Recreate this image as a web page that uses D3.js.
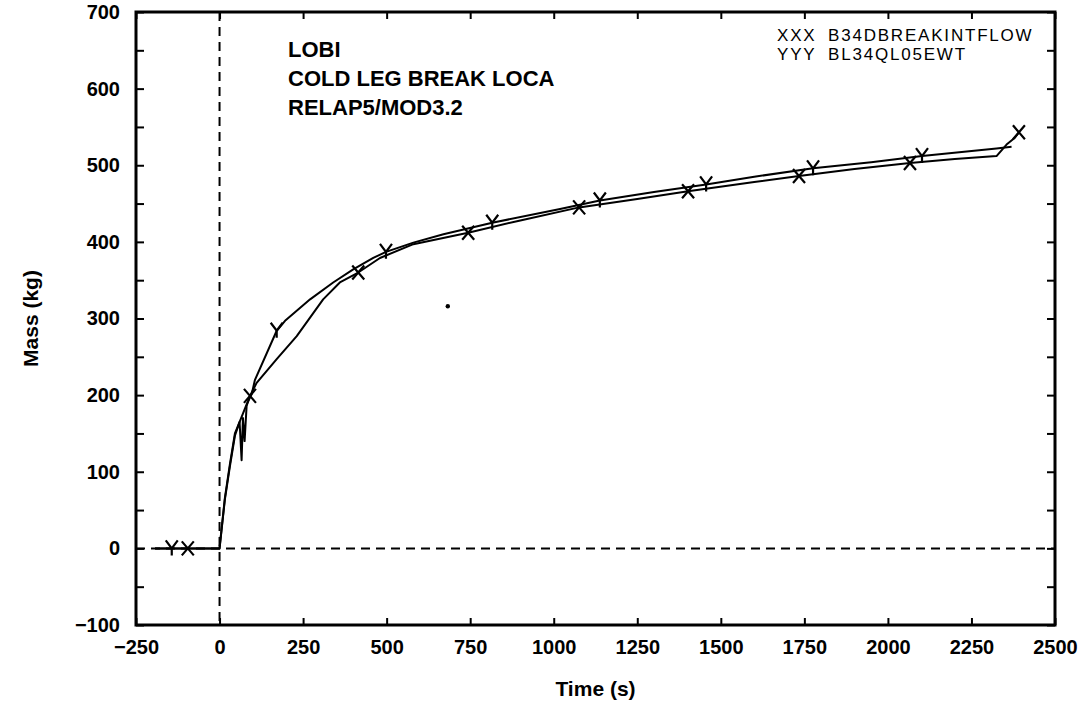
<!DOCTYPE html>
<html>
<head>
<meta charset="utf-8">
<script src="https://cdn.jsdelivr.net/npm/d3@7"></script>
<style>
  html, body { margin: 0; padding: 0; background: #fff; }
  svg { display: block; }
  text { font-family: "Liberation Sans", Arial, Helvetica, sans-serif; fill: #000; }
</style>
</head>
<body>
<svg id="chart" width="1090" height="709"></svg>
<script>
// ---- data ----
const xTicks = [-250, 0, 250, 500, 750, 1000, 1250, 1500, 1750, 2000, 2250, 2500];
const yTicks = [-100, 0, 100, 200, 300, 400, 500, 600, 700];
const yMinorTicks = [-50, 50, 150, 250, 350, 450, 550, 650];

const annotations = ["LOBI", "COLD LEG BREAK LOCA", "RELAP5/MOD3.2"];
const legendSymbols = ["XXX", "YYY"];
const legendNames = ["B34DBREAKINTFLOW", "BL34QL05EWT"];

// series XXX : B34DBREAKINTFLOW
const timeXXX = [-193, 0, 16, 31, 46, 60, 66, 70, 75, 81, 91, 111, 171, 231, 310, 360, 415, 480, 580, 744, 900, 1076, 1250, 1402, 1600, 1734, 1900, 2066, 2200, 2325, 2355, 2380, 2392];
const massXXX = [0, 0, 64, 107, 147, 165, 115, 170, 140, 186, 199, 216, 247, 277, 325, 347, 360, 379, 397, 412, 428, 445, 456, 466, 478, 486, 495, 503, 508, 512, 527, 536, 543];
const markTimeXXX = [-95, 91, 415, 744, 1076, 1402, 1734, 2066, 2392];
const markMassXXX = [0, 199, 360, 412, 445, 466, 486, 503, 543];

// series YYY : BL34QL05EWT
const timeYYY = [-193, 0, 16, 31, 46, 61, 81, 96, 106, 171, 196, 271, 340, 400, 460, 498, 580, 670, 816, 1019, 1138, 1300, 1456, 1600, 1776, 1950, 2102, 2325, 2370];
const massYYY = [0, 0, 66, 110, 150, 166, 188, 201, 220, 284, 297, 325, 347, 364, 379, 387, 399, 410, 425, 443, 454, 465, 475, 485, 496, 504, 512, 522, 524];
const markTimeYYY = [-143, 171, 498, 816, 1138, 1456, 1776, 2102];
const markMassYYY = [0, 284, 387, 425, 454, 475, 496, 512];

// ---- layout ----
const plot = { left: 136, right: 1055, top: 12, bottom: 625 };

const svg = d3.select("#chart");
const x = d3.scaleLinear().domain([-250, 2500]).range([plot.left, plot.right]);
const y = d3.scaleLinear().domain([-100, 700]).range([plot.bottom, plot.top]);

// dashed zero lines
svg.append("line")
  .attr("x1", x(0)).attr("x2", x(0)).attr("y1", plot.top).attr("y2", plot.bottom)
  .attr("stroke", "#000").attr("stroke-width", 2).attr("stroke-dasharray", "9,6");
svg.append("line")
  .attr("x1", plot.left).attr("x2", plot.right).attr("y1", y(0)).attr("y2", y(0))
  .attr("stroke", "#000").attr("stroke-width", 2).attr("stroke-dasharray", "9,6");

// axes
function styleAxis(g) {
  g.select(".domain").remove();
  g.selectAll(".tick line").attr("stroke", "#000").attr("stroke-width", 2);
  g.selectAll(".tick text")
    .style("font-size", "20px").style("font-weight", "bold")
    .style("font-family", "'Liberation Sans', Arial, sans-serif");
}
svg.append("g").attr("transform", `translate(0,${plot.bottom})`)
  .call(d3.axisBottom(x).tickValues(xTicks).tickSize(-7).tickPadding(15).tickFormat(d3.format("d")))
  .call(styleAxis);
svg.append("g").attr("transform", `translate(0,${plot.top})`)
  .call(d3.axisTop(x).tickValues(xTicks).tickSize(-7).tickFormat(""))
  .call(styleAxis);
svg.append("g").attr("transform", `translate(${plot.left},0)`)
  .call(d3.axisLeft(y).tickValues(yTicks).tickSize(-8).tickPadding(16).tickFormat(d3.format("d")))
  .call(styleAxis);
svg.append("g").attr("transform", `translate(${plot.left},0)`)
  .call(d3.axisLeft(y).tickValues(yMinorTicks).tickSize(-8).tickFormat(""))
  .call(styleAxis);
svg.append("g").attr("transform", `translate(${plot.right},0)`)
  .call(d3.axisRight(y).tickValues(yTicks.concat(yMinorTicks)).tickSize(-8).tickFormat(""))
  .call(styleAxis);

// frame
svg.append("rect")
  .attr("x", plot.left).attr("y", plot.top)
  .attr("width", plot.right - plot.left).attr("height", plot.bottom - plot.top)
  .attr("fill", "none").attr("stroke", "#000").attr("stroke-width", 3);

// lines
const line = d3.line().x(d => x(d[0])).y(d => y(d[1]));
const seriesXXX = timeXXX.map((t, i) => [t, massXXX[i]]);
const seriesYYY = timeYYY.map((t, i) => [t, massYYY[i]]);
[seriesXXX, seriesYYY].forEach(s => {
  svg.append("path").datum(s).attr("d", line)
    .attr("fill", "none").attr("stroke", "#000").attr("stroke-width", 2)
    .attr("stroke-linejoin", "round");
});

// markers
const xGlyph = "M-6,-7L6,7M-6,7L6,-7";
const yGlyph = "M-6,-8L0,0L6,-8M0,0L0,7";
markTimeXXX.forEach((t, i) => {
  svg.append("path").attr("d", xGlyph)
    .attr("transform", `translate(${x(t)},${y(markMassXXX[i])})`)
    .attr("fill", "none").attr("stroke", "#000").attr("stroke-width", 2.2);
});
markTimeYYY.forEach((t, i) => {
  svg.append("path").attr("d", yGlyph)
    .attr("transform", `translate(${x(t)},${y(markMassYYY[i])})`)
    .attr("fill", "none").attr("stroke", "#000").attr("stroke-width", 2.2);
});

// stray dot in the reference
svg.append("circle").attr("cx", x(683)).attr("cy", y(316)).attr("r", 2.2).attr("fill", "#000");

// annotations
annotations.forEach((s, i) => {
  svg.append("text").attr("x", 288).attr("y", 57 + i * 29)
    .style("font-size", "22px").style("font-weight", "bold").text(s);
});

// legend
legendSymbols.forEach((s, i) => {
  svg.append("text").attr("x", 777).attr("y", 41 + i * 19)
    .style("font-size", "17px").style("letter-spacing", "1.8px").text(s);
  svg.append("text").attr("x", 828).attr("y", 41 + i * 19)
    .style("font-size", "17px").style("letter-spacing", "1.8px").text(legendNames[i]);
});

// axis titles
svg.append("text").attr("x", (plot.left + plot.right) / 2).attr("y", 696)
  .attr("text-anchor", "middle")
  .style("font-size", "21px").style("font-weight", "bold").text("Time (s)");
svg.append("text")
  .attr("transform", `translate(38,${(plot.top + plot.bottom) / 2}) rotate(-90)`)
  .attr("text-anchor", "middle")
  .style("font-size", "21px").style("font-weight", "bold").text("Mass (kg)");
</script>
</body>
</html>
